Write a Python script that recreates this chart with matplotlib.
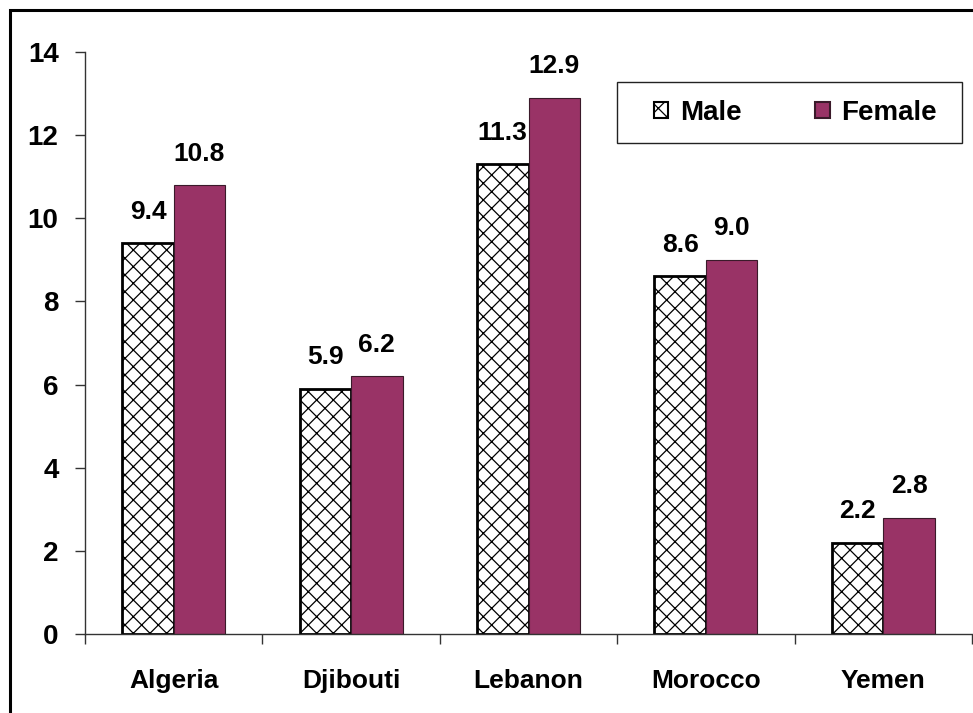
import matplotlib
matplotlib.use("Agg")
import matplotlib.pyplot as plt
import numpy as np
from matplotlib.patches import Rectangle

plt.rcParams['font.family'] = ['Liberation Sans', 'DejaVu Sans']
plt.rcParams['hatch.linewidth'] = 0.9

countries = ["Algeria", "Djibouti", "Lebanon", "Morocco", "Yemen"]
male = [9.4, 5.9, 11.3, 8.6, 2.2]
female = [10.8, 6.2, 12.9, 9.0, 2.8]
yticks = [0, 2, 4, 6, 8, 10, 12, 14]

W, H = 973, 713
fig = plt.figure(figsize=(W / 100, H / 100), dpi=100)

# outer chart frame (runs off the right and bottom edges)
fig.patches.append(Rectangle((10 / W, -0.05), 1.0, 1 - 10 / H + 0.05,
                             transform=fig.transFigure, fill=False,
                             edgecolor="black", linewidth=2.2, zorder=0))

# legend box
fig.patches.append(Rectangle((617 / W, 1 - 143 / H), (962 - 617) / W, 61 / H,
                             transform=fig.transFigure, fill=True, facecolor="white",
                             edgecolor="#222222", linewidth=1.0, zorder=3))

ax = fig.add_axes([85 / W, (H - 634) / H, 887 / W, 582 / H])

x = np.arange(len(countries))
bw = 0.29
bars_m = ax.bar(x - bw / 2, male, bw, facecolor="white", edgecolor="black",
                hatch="xx", linewidth=2.0, label="Male", zorder=2)
bars_f = ax.bar(x + bw / 2, female, bw, facecolor="#993366", edgecolor="#3a1a2a",
                linewidth=0.8, label="Female", zorder=2)

for rect, v in zip(bars_m, male):
    ax.annotate(f"{v:.1f}", (rect.get_x() + rect.get_width() / 2, v),
                xytext=(0, 14), textcoords="offset points", ha="center", va="bottom",
                fontsize=19, fontweight="bold")
for rect, v in zip(bars_f, female):
    ax.annotate(f"{v:.1f}", (rect.get_x() + rect.get_width() / 2, v),
                xytext=(0, 14), textcoords="offset points", ha="center", va="bottom",
                fontsize=19, fontweight="bold")

ax.set_xlim(-0.5, len(countries) - 0.5)
ax.set_ylim(0, 14)
ax.set_yticks(yticks)
ax.set_yticklabels([str(t) for t in yticks], fontsize=20, fontweight="bold")
ax.tick_params(axis="y", direction="out", length=7, width=1, color="#333333", pad=12)

# category boundary ticks on the x axis, names centred in each slot
ax.set_xticks(np.arange(len(countries) + 1) - 0.5)
ax.set_xticklabels([])
ax.tick_params(axis="x", direction="out", length=7, width=1, color="#333333")
for i, name in enumerate(countries):
    ax.text(i, -0.08, name, transform=ax.get_xaxis_transform(), ha="center", va="center",
            fontsize=19, fontweight="bold")

for s in ("top", "right"):
    ax.spines[s].set_visible(False)
for s in ("left", "bottom"):
    ax.spines[s].set_color("#333333")
    ax.spines[s].set_linewidth(1.0)

leg = fig.legend(handles=[bars_m, bars_f], labels=["Male", "Female"],
                 loc="center left", bbox_to_anchor=(654 / W, 1 - 113 / H),
                 ncol=2, frameon=False,
                 prop={"size": 20, "weight": "bold"}, handlelength=0.52, handleheight=0.52,
                 handletextpad=0.42, columnspacing=2.65, borderpad=0,
                 borderaxespad=0)
leg.set_zorder(4)
for h in leg.legend_handles:
    h.set_linewidth(1.5)

fig.savefig("out.png", dpi=100)
